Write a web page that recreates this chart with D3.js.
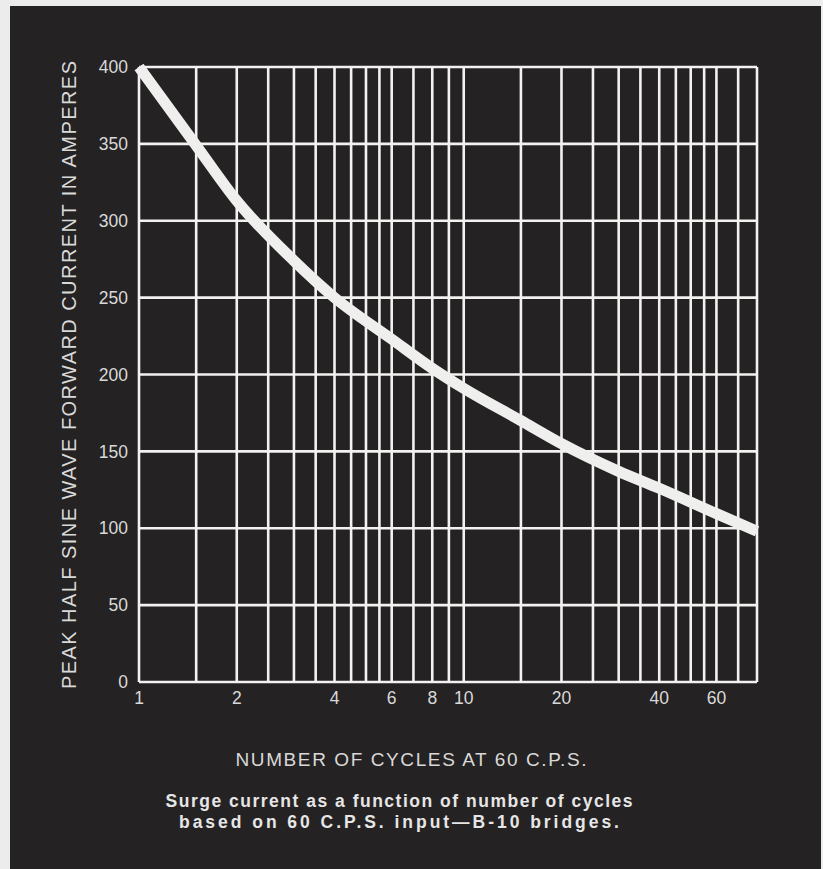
<html>
<script src="https://d3js.org/d3.v7.min.js"></script>
<body style="margin:0;background:#ececec">
<script>
    var width = 823
    var height = 869

    // values
    var cycles = [1, 1.5, 2, 3, 4, 6, 8, 10, 15, 20, 30, 40, 60, 80]
    var amps = [400, 349, 313, 274, 250, 223, 204, 191, 170, 155, 137, 126, 109.5, 98]

    var gridX = [1, 1.5, 2, 2.5, 3, 3.5, 4, 4.5, 5, 5.5, 6, 7, 8, 9, 10, 15, 20, 25, 30, 35, 40, 45, 50, 55, 60, 70, 80]
    var tickX = [1, 2, 4, 6, 8, 10, 20, 40, 60]
    var tickY = [0, 50, 100, 150, 200, 250, 300, 350, 400]

    var svg = d3.select('body').append('svg').attr('width', width).attr('height', height)
        .style('display', 'block')

    svg.append('rect').attr('x', 10).attr('y', 6).attr('width', 811).attr('height', height - 6)
        .attr('fill', '#252223')

    var x = d3.scaleLog().domain([1, 80]).range([139, 757])
    var y = d3.scaleLinear().domain([0, 400]).range([682, 67])

    var g = svg.append('g')
    var lineColor = '#f2f2f0'

    g.selectAll('.vgrid').data(gridX).enter().append('line').attr('class', 'vgrid')
        .attr('x1', function(d){return x(d)}).attr('x2', function(d){return x(d)})
        .attr('y1', y(0)).attr('y2', y(400))
        .attr('stroke', lineColor).attr('stroke-width', 2.6)

    g.selectAll('.hgrid').data(tickY).enter().append('line').attr('class', 'hgrid')
        .attr('x1', x(1)).attr('x2', x(80))
        .attr('y1', function(d){return y(d)}).attr('y2', function(d){return y(d)})
        .attr('stroke', lineColor).attr('stroke-width', 2.6)

    // the curve
    var pts = cycles.map(function(c, i){return [c, amps[i]]})
    var line = d3.line().x(function(d){return x(d[0])}).y(function(d){return y(d[1])})
        .curve(d3.curveMonotoneX)
    g.append('path').attr('d', line(pts)).attr('fill', 'none')
        .attr('stroke', '#efefed').attr('stroke-width', 11).attr('stroke-linecap', 'butt')

    var font = 'Liberation Sans, Arial, sans-serif'
    var textColor = '#d9d9d9'

    g.selectAll('.ylab').data(tickY).enter().append('text').attr('class', 'ylab')
        .attr('x', 128).attr('y', function(d){return y(d)}).attr('dy', '0.35em')
        .attr('text-anchor', 'end').attr('font-family', font).attr('font-size', 17.5)
        .attr('fill', textColor).text(function(d){return d})

    g.selectAll('.xlab').data(tickX).enter().append('text').attr('class', 'xlab')
        .attr('x', function(d){return x(d)}).attr('y', 698).attr('dy', '0.35em')
        .attr('text-anchor', 'middle').attr('font-family', font).attr('font-size', 17.5)
        .attr('fill', textColor).text(function(d){return d})

    svg.append('text').attr('transform', 'translate(69, 375) rotate(-90)')
        .attr('text-anchor', 'middle').attr('dy', '0.35em')
        .attr('font-family', font).attr('font-size', 20).attr('fill', textColor)
        .attr('textLength', 628).attr('lengthAdjust', 'spacing')
        .text('PEAK HALF SINE WAVE FORWARD CURRENT IN AMPERES')

    svg.append('text').attr('x', 411).attr('y', 759).attr('dy', '0.35em')
        .attr('text-anchor', 'middle').attr('font-family', font).attr('font-size', 19)
        .attr('fill', textColor).attr('textLength', 351).attr('lengthAdjust', 'spacing')
        .text('NUMBER OF CYCLES AT 60 C.P.S.')

    var caption = ['Surge current as a function of number of cycles', 'based on 60 C.P.S. input\u2014B-10 bridges.']
    var capLen = [467, 440]
    svg.selectAll('.cap').data(caption).enter().append('text').attr('class', 'cap')
        .attr('x', 399).attr('y', function(d, i){return 801 + i * 21}).attr('dy', '0.35em')
        .attr('text-anchor', 'middle').attr('font-family', font).attr('font-size', 17.5)
        .attr('font-weight', 'bold').attr('fill', '#e6e6e6')
        .attr('textLength', function(d, i){return capLen[i]}).attr('lengthAdjust', 'spacing')
        .text(function(d){return d})
</script>
</body>
</html>
